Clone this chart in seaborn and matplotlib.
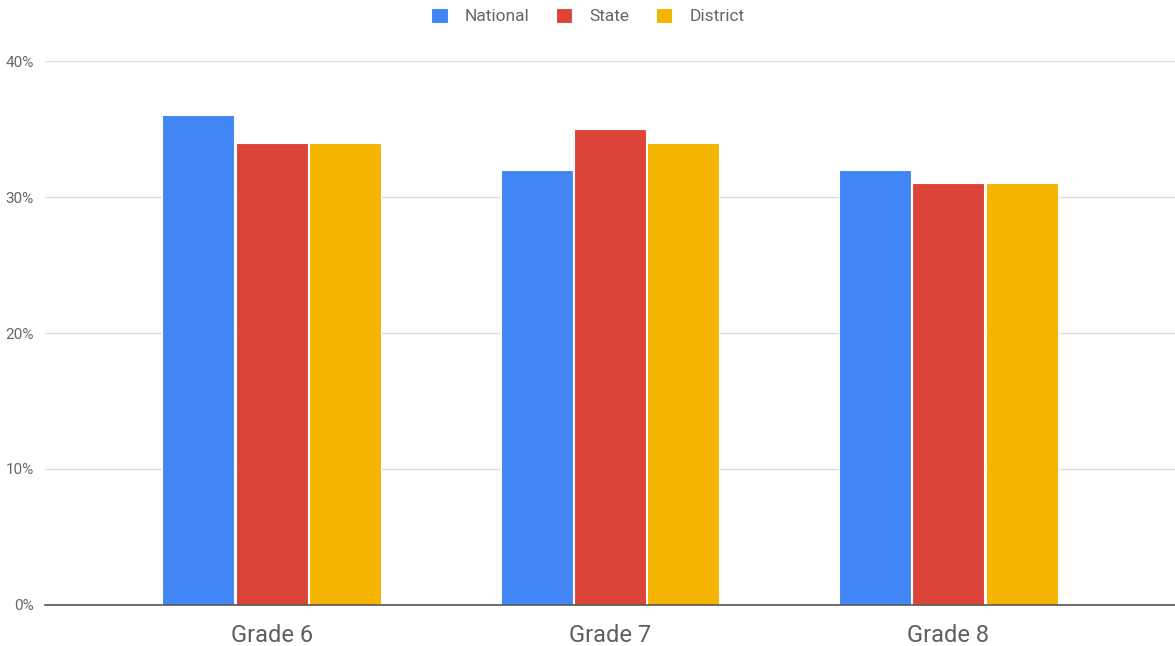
import pandas as pd
import matplotlib
matplotlib.use('Agg')
import matplotlib.pyplot as plt
import seaborn as sns
from matplotlib.ticker import PercentFormatter

# Data
grades = ['Grade 6', 'Grade 7', 'Grade 8']
series = ['National', 'State', 'District']
national = [36, 32, 32]
state = [34, 35, 31]
district = [34, 34, 31]
colors = ['#4285F4', '#DB4437', '#F4B400']

df = pd.DataFrame({
    'grade': grades * 3,
    'series': ['National'] * 3 + ['State'] * 3 + ['District'] * 3,
    'value': national + state + district,
})

sns.set_style('white')
plt.rcParams['font.family'] = ['Roboto', 'DejaVu Sans']

fig = plt.figure(figsize=(11.75, 6.46), dpi=100)
ax = fig.add_axes([45 / 1175, 41 / 646, 1130 / 1175, 544 / 646])

sns.barplot(data=df, x='grade', y='value', hue='series', hue_order=series,
            palette=colors, width=0.65, gap=0.02, saturation=1,
            edgecolor='white', linewidth=0.8, ax=ax)

ax.set_ylim(0, 40)
ax.set_xlim(-0.67, 2.67)
ax.set_yticks([0, 10, 20, 30, 40])
ax.yaxis.set_major_formatter(PercentFormatter(decimals=0))
ax.grid(axis='y', color='#dddddd', linewidth=1)
ax.set_axisbelow(True)
for s in ['top', 'right', 'left']:
    ax.spines[s].set_visible(False)
ax.spines['bottom'].set_color('#555555')
ax.spines['bottom'].set_linewidth(1.2)
ax.tick_params(axis='y', length=0, labelsize=11, labelcolor='#666666', pad=8)
ax.tick_params(axis='x', length=0, labelsize=17, labelcolor='#5f5f5f', pad=14)
ax.set_xlabel('')
ax.set_ylabel('')

leg = ax.legend(loc='center', bbox_to_anchor=(543 / 1130, 1 + 45 / 544),
                ncol=3, frameon=False, fontsize=12.5, handlelength=0.95, handleheight=0.95,
                handletextpad=1.0, columnspacing=1.5)
for t in leg.get_texts():
    t.set_color('#666666')

fig.savefig('out.png', dpi=100, facecolor='white')
